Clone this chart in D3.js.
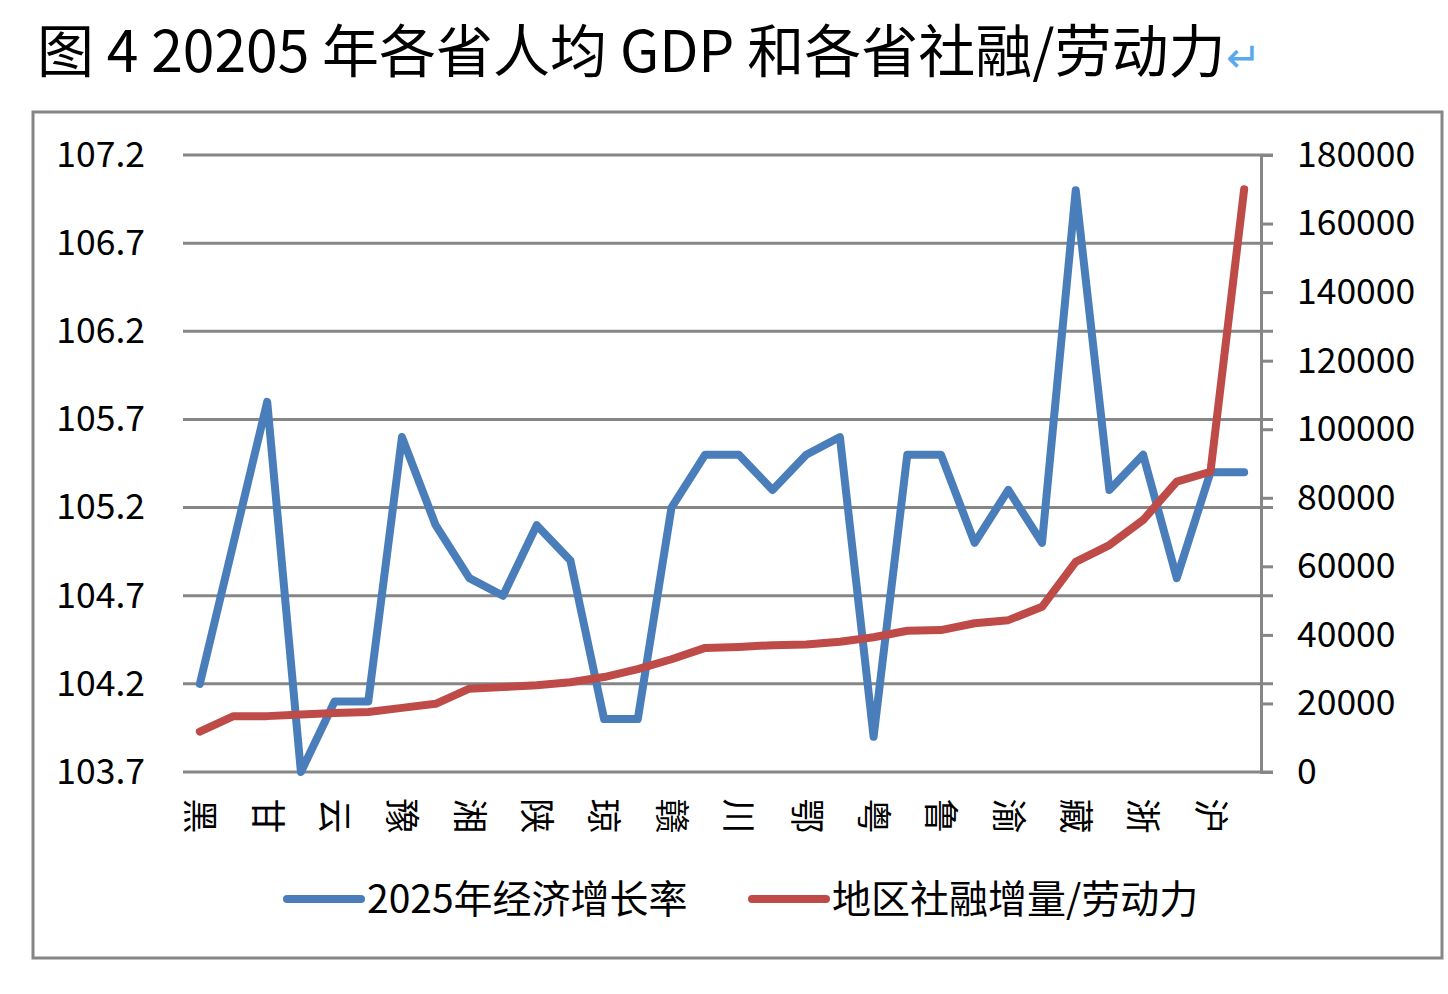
<!DOCTYPE html>
<html>
<head>
<meta charset="utf-8">
<script src="https://cdn.jsdelivr.net/npm/d3@7/dist/d3.min.js"></script>
<style>
  body { margin: 0; background: #fff; }
  svg text { font-family: "Noto Sans CJK SC", "Noto Sans", sans-serif; fill: #000; }
</style>
</head>
<body>
<svg id="chart" width="1448" height="994"></svg>
<script>
// categories (only every second one is labelled on the axis)
var provinces = ["黑","吉","甘","桂","云","晋","豫","冀","湘","辽","陕","蒙","琼","黔","赣","皖",
                 "川","新","鄂","宁","粤","青","鲁","闽","渝","苏","藏","津","浙","全国","沪","京"];
// 2025年经济增长率 (left axis)
var growth = [104.2,105.0,105.8,103.7,104.1,104.1,105.6,105.1,104.8,104.7,105.1,104.9,104.0,104.0,105.2,105.5,
              105.5,105.3,105.5,105.6,103.9,105.5,105.5,105.0,105.3,105.0,107.0,105.3,105.5,104.8,105.4,105.4];
// 地区社融增量/劳动力 (right axis)
var financing = [11800,16300,16300,16800,17200,17500,18700,19900,24300,24800,25300,26200,27700,30000,32900,36200,
                 36500,37000,37200,38000,39300,41200,41400,43400,44300,48200,61300,66200,73500,84700,87600,170000];
var leftTicks = [103.7,104.2,104.7,105.2,105.7,106.2,106.7,107.2];
var rightTicks = [0,20000,40000,60000,80000,100000,120000,140000,160000,180000];
var seriesNames = ["2025年经济增长率","地区社融增量/劳动力"];

var blue = "#4a7ebb", red = "#be4b48", grey = "#868686";
var svg = d3.select("#chart");

var plotL = 183, plotR = 1261, plotT = 155, plotB = 772;

var x = d3.scalePoint().domain(d3.range(provinces.length)).range([plotL, plotR]).padding(0.5);
var yL = d3.scaleLinear().domain([103.7, 107.2]).range([plotB, plotT]);
var yR = d3.scaleLinear().domain([0, 180000]).range([plotB, plotT]);

// title
var title = svg.append("text").attr("x", 37).attr("y", 72).style("font-size", "57px");
title.append("tspan").text("图 4 20205 年各省人均 GDP 和各省社融/劳动力");
title.append("tspan").style("fill", "#5aa8f0").style("font-size", "42px").text("↵");

// outer frame
svg.append("rect").attr("x", 33).attr("y", 112).attr("width", 1409).attr("height", 846)
    .attr("fill", "none").attr("stroke", grey).attr("stroke-width", 3);

// gridlines
svg.append("g").selectAll("line").data(leftTicks).enter().append("line")
    .attr("x1", plotL).attr("x2", plotR + 12)
    .attr("y1", function(d) { return yL(d); }).attr("y2", function(d) { return yL(d); })
    .attr("stroke", grey).attr("stroke-width", 3);

// left labels
svg.append("g")
    .attr("transform", "translate(" + plotL + ",0)")
    .call(d3.axisLeft(yL).tickValues(leftTicks).tickSize(0).tickPadding(38).tickFormat(d3.format(".1f")))
    .call(function(g) {
        g.select(".domain").remove();
        g.selectAll("text").style("font-size", "35.5px").attr("font-family", null);
    });

// right axis
svg.append("g")
    .attr("transform", "translate(" + plotR + ",0)")
    .call(d3.axisRight(yR).tickValues(rightTicks).tickSize(12).tickPadding(24).tickFormat(d3.format("d")))
    .call(function(g) {
        g.select(".domain").attr("stroke", grey).attr("stroke-width", 3);
        g.selectAll(".tick line").attr("stroke", grey).attr("stroke-width", 3);
        g.selectAll("text").style("font-size", "35.5px").attr("font-family", null);
    });

// category labels, rotated characters
svg.append("g").selectAll("text")
    .data(d3.range(0, provinces.length, 2)).enter().append("text")
    .attr("transform", function(i) { return "translate(" + x(i) + ",816) rotate(90)"; })
    .attr("text-anchor", "middle").attr("dy", "0.36em")
    .style("font-size", "35px")
    .text(function(i) { return provinces[i]; });

// lines
var lineL = d3.line().x(function(d, i) { return x(i); }).y(function(d) { return yL(d); });
var lineR = d3.line().x(function(d, i) { return x(i); }).y(function(d) { return yR(d); });

svg.append("path").datum(growth).attr("d", lineL)
    .attr("fill", "none").attr("stroke", blue).attr("stroke-width", 8)
    .attr("stroke-linecap", "round").attr("stroke-linejoin", "round");
svg.append("path").datum(financing).attr("d", lineR)
    .attr("fill", "none").attr("stroke", red).attr("stroke-width", 8)
    .attr("stroke-linecap", "round").attr("stroke-linejoin", "round");

// legend
var legend = svg.append("g").selectAll("g").data(seriesNames).enter().append("g")
    .attr("transform", function(d, i) { return "translate(" + (i === 0 ? 287 : 752) + ",899)"; });
legend.append("line").attr("x1", 0).attr("x2", 74)
    .attr("stroke", function(d, i) { return i === 0 ? blue : red; })
    .attr("stroke-width", 8).attr("stroke-linecap", "round");
legend.append("text").attr("x", 80).attr("dy", "0.36em").style("font-size", "39px")
    .text(function(d) { return d; });
</script>
</body>
</html>
